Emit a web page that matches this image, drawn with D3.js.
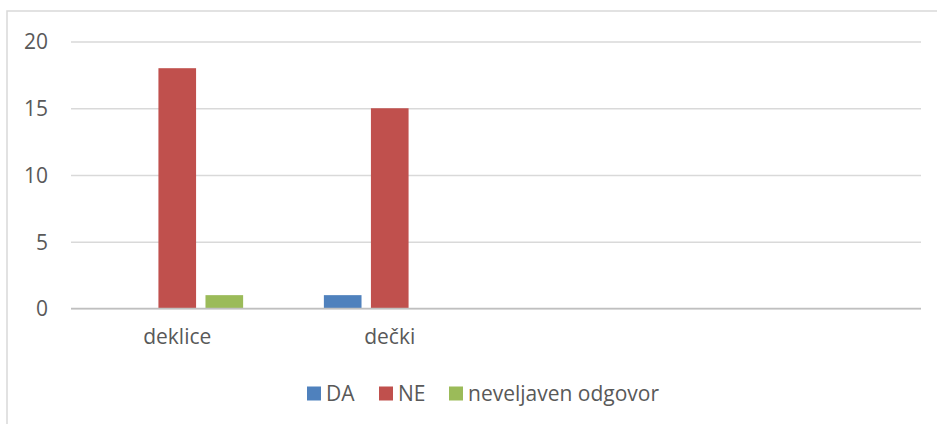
<!DOCTYPE html>
<html><head><meta charset="utf-8">
<script src="https://cdn.jsdelivr.net/npm/d3@7"></script>
<style>body{margin:0;background:#fff;} svg{display:block;} text{font-family:"Open Sans",sans-serif;fill:#595959;}</style>
</head><body>
<svg id="c" width="937" height="424"></svg>
<script>
const categories = ["deklice", "dečki", "", ""];
const seriesNames = ["DA", "NE", "neveljaven odgovor"];
const seriesColors = ["#4F81BD", "#C0504D", "#9BBB59"];
const valuesDA = [0, 1, null, null];
const valuesNE = [18, 15, null, null];
const valuesNeveljaven = [1, 0, null, null];
const yTicks = [0, 5, 10, 15, 20];

(function () {
const series = [valuesDA, valuesNE, valuesNeveljaven];
const svg = d3.select("#c");
const fs = 21;

// chart border
svg.append("rect").attr("x", 7).attr("y", 11).attr("width", 940).attr("height", 430)
  .attr("fill", "none").attr("stroke", "#D9D9D9").attr("stroke-width", 1.5);

const pLeft = 71, pRight = 921, pTop = 41.5, pBottom = 308.5;
const y = d3.scaleLinear().domain([0, 20]).range([pBottom, pTop]);
const x0 = d3.scaleBand().domain(d3.range(categories.length)).range([pLeft, pRight]).padding(0);
const x1 = d3.scaleBand().domain(d3.range(seriesNames.length))
  .range([x0.bandwidth() * 0.19, x0.bandwidth() * 0.81]).paddingInner(0.2).paddingOuter(0);

// gridlines
const yAxis = d3.axisLeft(y).tickValues(yTicks).tickSize(-(pRight - pLeft)).tickPadding(23);
const ga = svg.append("g").attr("transform", `translate(${pLeft},0)`).call(yAxis);
ga.select(".domain").remove();
ga.selectAll(".tick line").attr("stroke", "#D9D9D9").attr("stroke-width", 1.5);
ga.selectAll(".tick text").attr("font-size", fs).attr("fill", "#595959")
  .attr("font-family", "Open Sans").attr("dy", "0.35em");

// bars
categories.forEach((c, i) => {
  series.forEach((vals, s) => {
    const v = vals[i];
    if (v === null || v === 0) return;
    svg.append("rect")
      .attr("x", x0(i) + x1(s)).attr("width", x1.bandwidth())
      .attr("y", y(v)).attr("height", y(0) - y(v))
      .attr("fill", seriesColors[s]);
  });
});

// x axis line
svg.append("line").attr("x1", pLeft).attr("x2", pRight).attr("y1", y(0)).attr("y2", y(0))
  .attr("stroke", "#BFBFBF").attr("stroke-width", 1.5);

// x axis labels
const xAxis = d3.axisBottom(x0).tickFormat(i => categories[i]).tickSize(0).tickPadding(21);
const gx = svg.append("g").attr("transform", `translate(0,${y(0)})`).call(xAxis);
gx.select(".domain").remove();
gx.selectAll(".tick text").attr("font-size", fs).attr("fill", "#595959").attr("font-family", "Open Sans");

// legend
const legendX = [307, 379, 449];
const lg = svg.append("g");
seriesNames.forEach((n, s) => {
  lg.append("rect").attr("x", legendX[s]).attr("y", 386.5).attr("width", 14).attr("height", 14)
    .attr("fill", seriesColors[s]);
  lg.append("text").attr("x", legendX[s] + 19).attr("y", 400.5).attr("font-size", fs).text(n);
});
})();
</script>
</body></html>
